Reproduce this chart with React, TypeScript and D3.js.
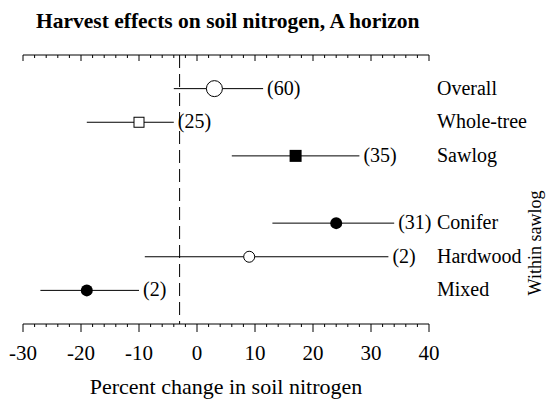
import React from "react";
import * as d3 from "d3";

const categories = ["Overall", "Whole-tree", "Sawlog", "Conifer", "Hardwood", "Mixed"];
const rowIndex = [0, 1, 2, 4, 5, 6];
const means = [3, -10, 17, 24, 9, -19];
const lows = [-4, -19, 6, 13, -9, -27];
const highs = [11.4, -4, 28, 34, 33, -10];
const counts = ["(60)", "(25)", "(35)", "(31)", "(2)", "(2)"];
const markers = ["circleOpenLarge", "squareOpen", "squareFilled", "circleFilled", "circleOpen", "circleFilled"];
const xTicks = [-30, -20, -10, 0, 10, 20, 30, 40];
const refValue = -3;

const W = 547;
const H = 403;
const FONT = "'Liberation Serif', 'Times New Roman', serif";

export default function App() {
  const x = d3.scaleLinear().domain([-30, 40]).range([23, 429]);
  const y = d3.scaleLinear().domain([-1, 7]).range([55, 324]);
  const minor = d3.range(-30, 40.001, 2);
  const top = y(-1);
  const bottom = y(7);
  const ts = { fontFamily: FONT };

  const marker = (type: string, cx: number, cy: number, key: string) => {
    switch (type) {
      case "circleOpenLarge":
        return <circle key={key} cx={cx} cy={cy} r={8} fill="#fff" stroke="#000" strokeWidth={1} />;
      case "circleOpen":
        return <circle key={key} cx={cx} cy={cy} r={5.5} fill="#fff" stroke="#000" strokeWidth={1} />;
      case "circleFilled":
        return <circle key={key} cx={cx} cy={cy} r={6} fill="#000" />;
      case "squareOpen":
        return <rect key={key} x={cx - 5} y={cy - 5} width={10} height={10} fill="#fff" stroke="#000" strokeWidth={1} />;
      default:
        return <rect key={key} x={cx - 6} y={cy - 6} width={12} height={12} fill="#000" />;
    }
  };

  return (
    <svg width={W} height={H} style={{ position: "absolute", left: 0, top: 0, background: "#fff" }}>
      <text x={36} y={28} fontSize={21.5} fontWeight="bold" fill="#000" style={ts}>
        Harvest effects on soil nitrogen, A horizon
      </text>

      {/* top axis */}
      <line x1={x(-30)} x2={x(40)} y1={top} y2={top} stroke="#000" strokeWidth={1} />
      {minor.map((v) => {
        const major = Math.abs(v % 10) < 1e-9;
        return (
          <line key={"t" + v} x1={x(v)} x2={x(v)} y1={top} y2={top + (major ? 6 : 3)} stroke="#000" strokeWidth={1} />
        );
      })}

      {/* bottom axis */}
      <line x1={x(-30)} x2={x(40)} y1={bottom} y2={bottom} stroke="#000" strokeWidth={1} />
      {minor.map((v) => {
        const major = Math.abs(v % 10) < 1e-9;
        return (
          <line key={"b" + v} x1={x(v)} x2={x(v)} y1={bottom} y2={bottom + (major ? 8 : 3)} stroke="#000" strokeWidth={1} />
        );
      })}
      {xTicks.map((v) => (
        <text key={"l" + v} x={x(v)} y={360} fontSize={21} textAnchor="middle" fill="#000" style={ts}>
          {v}
        </text>
      ))}
      <text x={(x(-30) + x(40)) / 2} y={394} fontSize={22} textAnchor="middle" fill="#000" style={ts}>
        Percent change in soil nitrogen
      </text>

      {/* reference dashed line */}
      <line x1={x(refValue)} x2={x(refValue)} y1={top} y2={bottom} stroke="#000" strokeWidth={1} strokeDasharray="13,6" />

      {categories.map((c, i) => {
        const cy = y(rowIndex[i]);
        return (
          <g key={c}>
            <line x1={x(lows[i])} x2={x(highs[i])} y1={cy} y2={cy} stroke="#000" strokeWidth={1} />
            {marker(markers[i], x(means[i]), cy, "m" + i)}
            <text x={x(highs[i]) + 4} y={cy + 6} fontSize={20} fill="#000" style={ts}>
              {counts[i]}
            </text>
            <text x={437} y={cy + 6} fontSize={20} fill="#000" style={ts}>
              {c}
            </text>
          </g>
        );
      })}

      <text transform={`translate(541, 243) rotate(-90)`} fontSize={18} textAnchor="middle" fill="#000" style={ts}>
        Within sawlog
      </text>
    </svg>
  );
}
